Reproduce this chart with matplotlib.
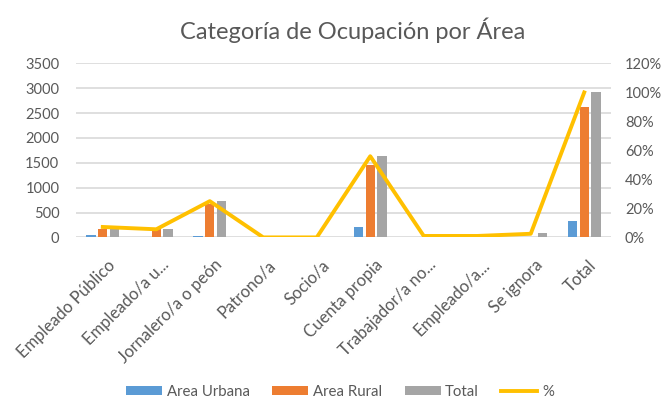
import numpy as np
import matplotlib.pyplot as plt
from matplotlib.ticker import FuncFormatter
from matplotlib.transforms import ScaledTranslation

plt.rcParams['font.family'] = ['Lato', 'DejaVu Sans']

categorias = ['Empleado Público', 'Empleado/a u...', 'Jornalero/a o peón', 'Patrono/a',
              'Socio/a', 'Cuenta propia', 'Trabajador/a no...', 'Empleado/a...',
              'Se ignora', 'Total']
area_urbana = [55, 5, 30, 0, 0, 213, 2, 2, 10, 327]
area_rural = [165, 160, 670, 0, 0, 1452, 12, 8, 15, 2622]
total = [175, 165, 730, 0, 0, 1647, 14, 10, 92, 2932]
porcentaje = [0.072, 0.056, 0.25, 0.0, 0.0, 0.56, 0.01, 0.01, 0.025, 1.0]

gris = '#595959'
fig = plt.figure(figsize=(6.67, 3.99), dpi=100)
ax = fig.add_axes([0.114, 0.405, 0.802, 0.436])
ax2 = ax.twinx()

x = np.arange(len(categorias))
w = 0.17
d = 0.22
ax.bar(x - d, area_urbana, w, color='#5B9BD5', label='Area Urbana', zorder=2)
ax.bar(x, area_rural, w, color='#ED7D31', label='Area Rural', zorder=2)
ax.bar(x + d, total, w, color='#A5A5A5', label='Total', zorder=2)
ax2.plot(x, porcentaje, color='#FFC000', lw=2.8, label='%', zorder=3)

ax.set_xlim(-0.5, len(categorias) - 0.5)
ax.set_ylim(0, 3500)
ax.set_yticks(np.arange(0, 3501, 500))
ax2.set_ylim(0, 1.2)
ax2.set_yticks(np.arange(0, 1.21, 0.2))
ax2.yaxis.set_major_formatter(FuncFormatter(lambda v, p: f'{v*100:.0f}%'))

ax.yaxis.grid(True, color='#D9D9D9', lw=1.2)
ax.set_axisbelow(True)
for a in (ax, ax2):
    for s in a.spines.values():
        s.set_visible(False)
    a.tick_params(length=0, colors=gris, labelsize=10.5)
ax.tick_params(axis='y', pad=12)
ax2.tick_params(axis='y', pad=10)
ax.set_xticks(x)
ax.set_xticklabels(categorias, rotation=45, ha='right', rotation_mode='anchor', fontsize=12)
ax.tick_params(axis='x', pad=14)
# shift rotated labels a little to the right
for lbl in ax.get_xticklabels():
    lbl.set_transform(lbl.get_transform() + ScaledTranslation(3 / 72, 0, fig.dpi_scale_trans))

fig.text(0.528, 0.925, 'Categoría de Ocupación por Área', ha='center', va='center',
         fontsize=17, color=gris)

h1, l1 = ax.get_legend_handles_labels()
h2, l2 = ax2.get_legend_handles_labels()
fig.legend(h1 + h2, l1 + l2, loc='center', bbox_to_anchor=(0.51, 0.018), ncol=4,
           frameon=False, fontsize=10.8, labelcolor=gris, handlelength=2.4,
           handleheight=0.6, handletextpad=0.3, columnspacing=1.5)

fig.savefig('out.png', dpi=100)
